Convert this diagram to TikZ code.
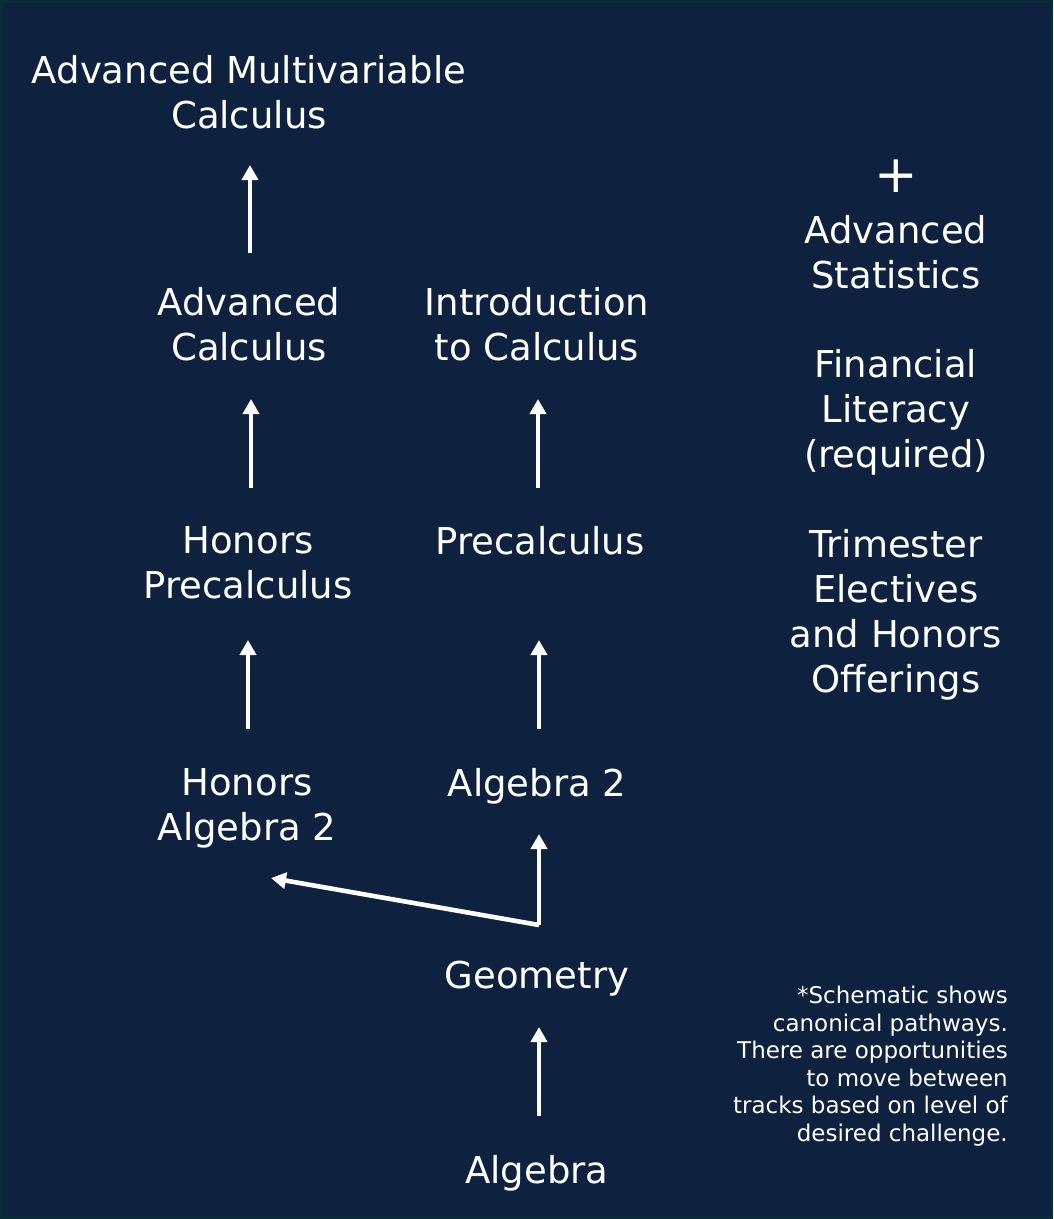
\documentclass[tikz,border=0pt]{standalone}
\usepackage{fontspec}
\setmainfont{DejaVu Sans}
\usetikzlibrary{arrows.meta}
\definecolor{bg}{RGB}{14,34,64}
\definecolor{edge}{RGB}{10,44,56}
\tikzset{
  course/.style={text=white, align=center, inner sep=0pt, font=\fontsize{37}{45}\selectfont},
  arr/.style={draw=white, line width=4.6pt, -{Triangle[width=16pt,length=15pt]}},
}
\begin{document}
\begin{tikzpicture}[x=1pt,y=-1pt]
\fill[bg] (0,0) rectangle (1053,1219);
\draw[edge, line width=3pt] (1.5,1.5) rectangle (1051.5,1217.5);
\useasboundingbox (0,0) rectangle (1053,1219);

\node[course] (amc) at (249,92) {Advanced Multivariable\\Calculus};
\node[course] (ac) at (249,324) {Advanced\\Calculus};
\node[course] (itc) at (537,324) {Introduction\\to Calculus};
\node[course] (hp) at (248,563) {Honors\\Precalculus};
\node[course] (pre) at (540,541) {Precalculus};
\node[course] (ha2) at (247,808) {Honors\\Algebra 2};
\node[course] (a2) at (537,786) {Algebra 2};
\node[course] (geo) at (537,979) {Geometry};
\node[course] (alg) at (537,1173) {Algebra};

\node[course, font=\fontsize{52}{60}\selectfont] (plus) at (896,176) {+};
\node[course] (stats) at (896,252) {Advanced\\Statistics};
\node[course] (fin) at (896,412) {Financial\\Literacy\\(required)};
\node[course] (tri) at (896,615) {Trimester\\Electives\\and Honors\\Offerings};

\node[text=white, align=right, inner sep=0pt, anchor=east, font=\fontsize{23}{27.5}\selectfont] (note) at (1008,1066)
  {*Schematic shows\\canonical pathways.\\There are opportunities\\to move between\\tracks based on level of\\desired challenge.};

\draw[arr] ([xshift=1pt,yshift=71pt]ac.center) -- ([xshift=1pt,yshift=-73pt]amc.center);
\draw[arr] ([xshift=3pt,yshift=75pt]hp.center) -- ([xshift=2pt,yshift=-75pt]ac.center);
\draw[arr] ([xshift=-2pt,yshift=53pt]pre.center) -- ([xshift=1pt,yshift=-75pt]itc.center);
\draw[arr] ([xshift=1pt,yshift=79pt]ha2.center) -- ([yshift=-77pt]hp.center);
\draw[arr] ([xshift=2pt,yshift=57pt]a2.center) -- ([xshift=-1pt,yshift=-99pt]pre.center);
\draw[arr] ([xshift=2pt,yshift=54pt]geo.center) -- ([xshift=2pt,yshift=-48pt]a2.center);
\draw[arr] ([xshift=2pt,yshift=54pt]geo.center) -- ([xshift=24pt,yshift=-70pt]ha2.center);
\draw[arr] ([xshift=2pt,yshift=57pt]alg.center) -- ([xshift=2pt,yshift=-48pt]geo.center);
\end{tikzpicture}
\end{document}
